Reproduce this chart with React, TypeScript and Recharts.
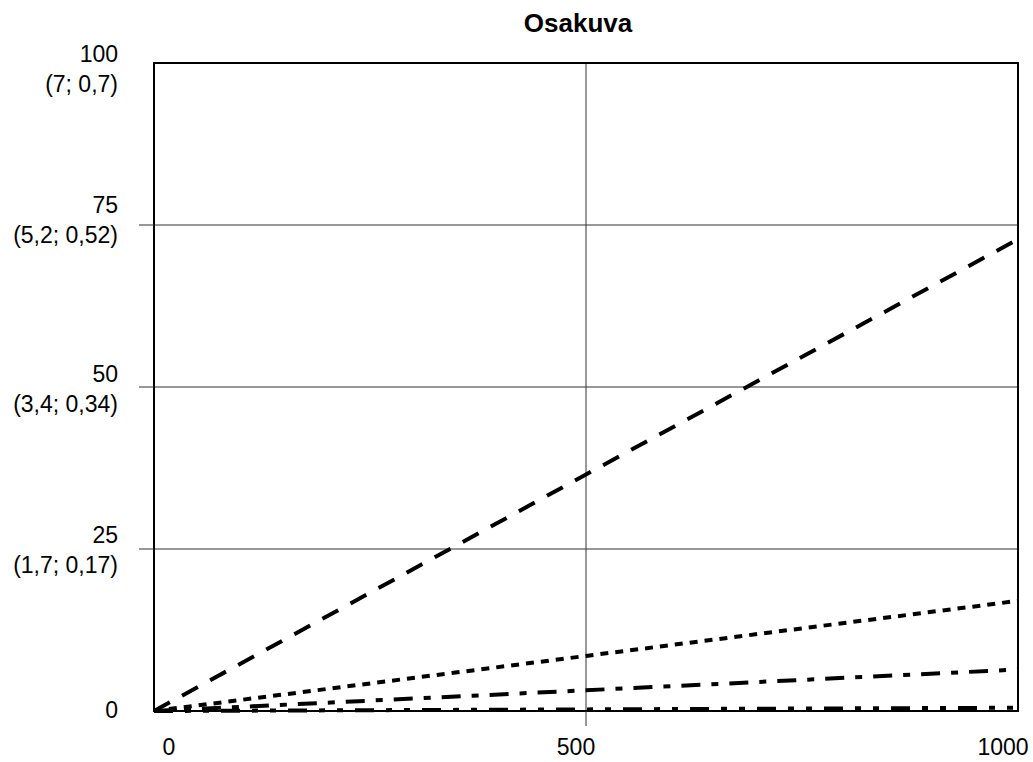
import React from "react";
import { LineChart, Line, XAxis, YAxis, CartesianGrid, ReferenceArea } from "recharts";

const xValues = [0, 500, 1000];
const dashedSeries = [0, 36.5, 72.8];
const dottedSeries = [0, 8.5, 17];
const dashDotSeries = [0, 3.2, 6.4];
const dashDotDotSeries = [0, 0.25, 0.5];

const xTicks = [0, 500, 1000];
const yTicks = [0, 25, 50, 75, 100];
const yTickSub = ["", "(1,7; 0,17)", "(3,4; 0,34)", "(5,2; 0,52)", "(7; 0,7)"];

const FONT = "'Liberation Sans', Arial, Helvetica, sans-serif";
const LEFT = 154;
const BOTTOM = 711;

const chartData = xValues.map((x, i) => ({
   x,
   dashed: dashedSeries[i],
   dotted: dottedSeries[i],
   dashDot: dashDotSeries[i],
   dashDotDot: dashDotDotSeries[i],
}));

// baseline shifts of the first label line, as placed in the original
const yLabelShift: Record<number, number> = { 0: 7, 25: -6, 50: -5, 75: -12, 100: -1 };
const xLabelShift: Record<number, number> = { 0: 15, 500: -10, 1000: -15 };

function YTick(props: any) {
   const { y, payload } = props;
   const v = payload.value as number;
   const idx = yTicks.indexOf(v);
   const interior = v !== 0 && v !== 100;
   return (
      <g>
         {interior && <line x1={LEFT - 15} x2={LEFT} y1={y} y2={y} stroke="#333" strokeWidth={1} />}
         <text x={118} y={y + yLabelShift[v]} textAnchor="end" fontSize={23} fontFamily={FONT} fill="#000">
            {v}
         </text>
         {yTickSub[idx] && (
            <text x={118} y={y + yLabelShift[v] + 30} textAnchor="end" fontSize={23} fontFamily={FONT} fill="#000">
               {yTickSub[idx]}
            </text>
         )}
      </g>
   );
}

function XTick(props: any) {
   const { x, payload } = props;
   const v = payload.value as number;
   const interior = v !== 0 && v !== 1000;
   return (
      <g>
         {interior && <line x1={x} x2={x} y1={BOTTOM} y2={BOTTOM + 15} stroke="#333" strokeWidth={1} />}
         <text x={x + xLabelShift[v]} y={755} textAnchor="middle" fontSize={23} fontFamily={FONT} fill="#000">
            {v}
         </text>
      </g>
   );
}

export default function App() {
   return (
      <div style={{ position: "absolute", left: 0, top: 0, width: 1033, height: 762, background: "#fff" }}>
         <LineChart width={1033} height={762} data={chartData} margin={{ top: 63, right: 15, bottom: 0, left: 0 }}>
            <text x={578} y={32} textAnchor="middle" fontSize={26} fontWeight="bold" fontFamily={FONT} fill="#000">
               Osakuva
            </text>
            <CartesianGrid stroke="#333" strokeWidth={1} />
            <XAxis
               dataKey="x"
               type="number"
               domain={[0, 1000]}
               ticks={xTicks}
               height={51}
               axisLine={false}
               tickLine={false}
               tick={<XTick />}
               interval={0}
            />
            <YAxis
               type="number"
               domain={[0, 100]}
               ticks={yTicks}
               width={LEFT}
               axisLine={false}
               tickLine={false}
               tick={<YTick />}
               interval={0}
            />
            <Line dataKey="dashed" stroke="#000" strokeWidth={4} strokeDasharray="18 14" dot={false} isAnimationActive={false} />
            <Line dataKey="dotted" stroke="#000" strokeWidth={4} strokeDasharray="8 7" dot={false} isAnimationActive={false} />
            <Line dataKey="dashDot" stroke="#000" strokeWidth={4} strokeDasharray="19 11 7 11" dot={false} isAnimationActive={false} />
            <Line dataKey="dashDotDot" stroke="#000" strokeWidth={4} strokeDasharray="19 12 6 12 6 12" dot={false} isAnimationActive={false} />
            <ReferenceArea x1={0} x2={1000} y1={0} y2={100} fill="none" fillOpacity={0} stroke="#000" strokeWidth={2} />
         </LineChart>
      </div>
   );
}
